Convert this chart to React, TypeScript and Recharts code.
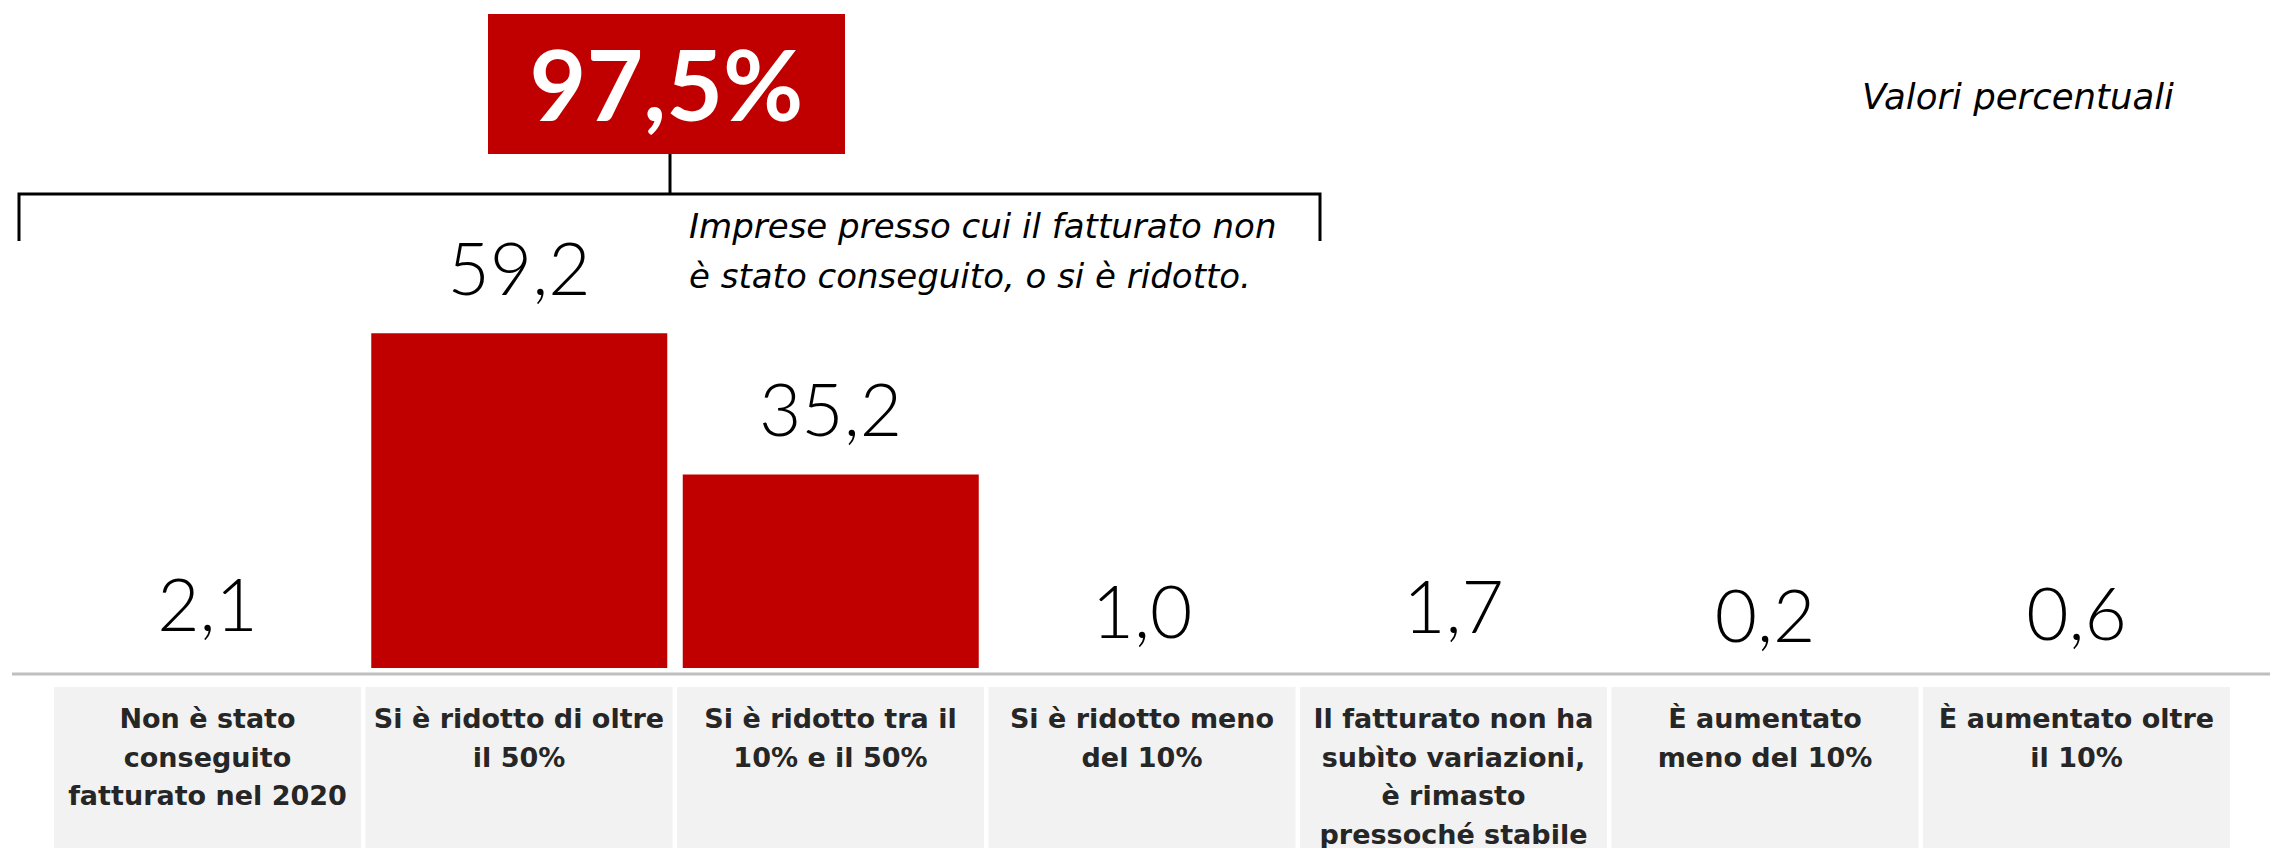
import React from "react";
import { XAxis, YAxis, Bar, Line, LabelList, ComposedChart } from "recharts";

const categories: string[] = [
  "Non è stato\nconseguito\nfatturato nel 2020",
  "Si è ridotto di oltre\nil 50%",
  "Si è ridotto tra il\n10% e il 50%",
  "Si è ridotto meno\ndel 10%",
  "Il fatturato non ha\nsubìto variazioni,\nè rimasto\npressoché stabile",
  "È aumentato\nmeno del 10%",
  "È aumentato oltre\nil 10%",
];
const values: number[] = [2.1, 59.2, 35.2, 1.0, 1.7, 0.2, 0.6];
const headlineCount = 4;
const noteLines: string[] = ["Imprese presso cui il fatturato non", "è stato conseguito, o si è ridotto."];
const unitNote = "Valori percentuali";

const RED = "#C00000";
const W = 2270;
const H = 848;

const data = categories.map((name, i) => ({ name, value: values[i] }));
const headline = values.slice(0, headlineCount).reduce((a, b) => a + b, 0);
const fmt = (v: number) => v.toFixed(1).replace(".", ",");

const ValueLabel = (props: any) => {
  const { x, y, value } = props;
  if (x == null || y == null) return null;
  return (
    <text x={x} y={y - 38} textAnchor="middle" fill="#000" fontFamily="Lato" fontSize={73} fontWeight={300}>
      {fmt(Number(value))}
    </text>
  );
};

const CellTick = (props: any) => {
  const { x, y, payload } = props;
  const lines = String(payload.value).split("\n");
  return (
    <g>
      <rect x={x - 153.5} y={y} width={307} height={H - y} fill="#f2f2f2" />
      <text textAnchor="middle" fill="#262626" fontFamily="DejaVu Sans" fontWeight={700} fontSize={27}>
        {lines.map((l, i) => (
          <tspan key={i} x={x} y={y + 41 + i * 38.5}>
            {l}
          </tspan>
        ))}
      </text>
    </g>
  );
};

export default function App() {
  return (
    <div style={{ position: "absolute", left: 0, top: 0, width: W, height: H, background: "#fff" }}>
      <ComposedChart
        width={W}
        height={H}
        data={data}
        margin={{ top: 93.4, right: 37.75, bottom: 0, left: 51.75 }}
      >
        <XAxis
          dataKey="name"
          axisLine={false}
          tickLine={false}
          tickSize={19}
          tickMargin={0}
          interval={0}
          height={180}
          tick={<CellTick />}
        />
        <YAxis hide type="number" domain={[2.28, 100]} allowDataOverflow />
        <Bar dataKey="value" fill={RED} barSize={296} isAnimationActive={false} />
        <Line
          dataKey="value"
          stroke="none"
          dot={false}
          activeDot={false}
          legendType="none"
          isAnimationActive={false}
        >
          <LabelList dataKey="value" content={<ValueLabel />} />
        </Line>
      </ComposedChart>
      <svg width={W} height={H} style={{ position: "absolute", left: 0, top: 0, pointerEvents: "none" }}>
        <line x1={12} x2={W} y1={674} y2={674} stroke="#bfbfbf" strokeWidth={3} />
        <rect x={488} y={14} width={357} height={140} fill={RED} />
        <text x={666.5} y={121} textAnchor="middle" fill="#fff" fontFamily="Lato" fontWeight={700} fontSize={98}>
          {fmt(headline)}%
        </text>
        <line x1={670} x2={670} y1={154} y2={194} stroke="#000" strokeWidth={3} />
        <path d="M19 241 V194 H1320 V241" fill="none" stroke="#000" strokeWidth={3} />
        {noteLines.map((l, i) => (
          <text key={i} x={689} y={238 + i * 50} fill="#000" fontFamily="DejaVu Sans" fontStyle="italic" fontSize={34}>
            {l}
          </text>
        ))}
        <text x={2018} y={109} textAnchor="middle" fill="#000" fontFamily="DejaVu Sans" fontStyle="italic" fontSize={35.5}>
          {unitNote}
        </text>
      </svg>
    </div>
  );
}
